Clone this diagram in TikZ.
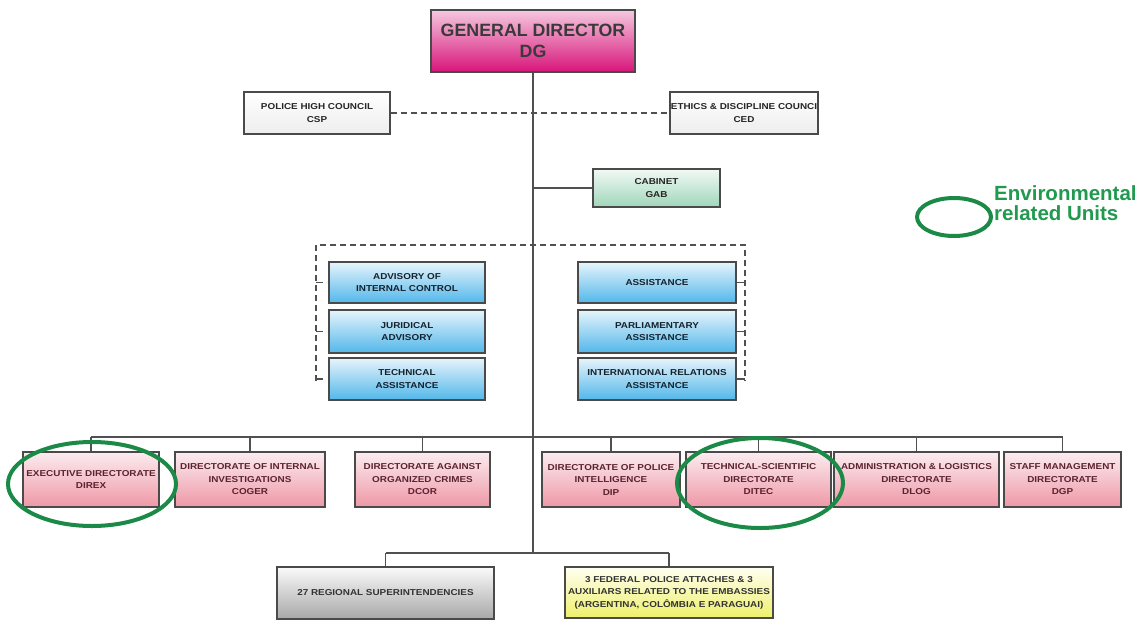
\documentclass[tikz,border=0pt]{standalone}
\usepackage{fontspec}
\setmainfont{Liberation Sans}
\newfontfamily\widefont{Liberation Sans}[FakeStretch=1.15]
\definecolor{boxline}{HTML}{4A4A4A}
\definecolor{linecol}{HTML}{505050}
\definecolor{gdtop}{HTML}{F5C8DF}
\definecolor{gdbot}{HTML}{D8157A}
\definecolor{gdtext}{HTML}{3A3A3A}
\definecolor{pinktop}{HTML}{FBECF0}
\definecolor{pinkbot}{HTML}{EE98A6}
\definecolor{pinktext}{HTML}{5B2330}
\definecolor{bluetop}{HTML}{E6F4FB}
\definecolor{bluebot}{HTML}{52B7EA}
\definecolor{bluetext}{HTML}{14222E}
\definecolor{gabtop}{HTML}{F2F9F5}
\definecolor{gabbot}{HTML}{9FD6BA}
\definecolor{graytop}{HTML}{FAFAFA}
\definecolor{graybot}{HTML}{A8A8A8}
\definecolor{yeltop}{HTML}{FFFFF2}
\definecolor{yelbot}{HTML}{EEF06A}
\definecolor{ringgreen}{HTML}{1B8A47}
\definecolor{leggreen}{HTML}{21994F}
\begin{document}
\begin{tikzpicture}[x=1pt,y=-1pt,
  box/.style={draw=boxline, line width=1.6pt, align=center, inner sep=0pt},
  small/.style={font=\widefont\bfseries\fontsize{8.6}{12.5}\selectfont},
  gdbox/.style={box, top color=gdtop, bottom color=gdbot, text=gdtext,
    font=\bfseries\fontsize{17.8}{21}\selectfont},
  plainbox/.style={box, small, top color=white, bottom color=black!7, text=black!85},
  gabbox/.style={box, small, top color=gabtop, bottom color=gabbot, text=black!85},
  bluebox/.style={box, small, top color=bluetop, bottom color=bluebot, text=bluetext},
  dirbox/.style={box, small, top color=pinktop, bottom color=pinkbot, text=pinktext,
    minimum height=55pt},
  graybox/.style={box, small, top color=graytop, bottom color=graybot, text=black!80},
  yelbox/.style={box, small, top color=yeltop, bottom color=yelbot, text=black!80},
  conn/.style={draw=linecol, line width=1.5pt},
  dashconn/.style={conn, dash pattern=on 6pt off 4pt},
  ring/.style={draw=ringgreen, line width=4pt}
]
\useasboundingbox (0,0) rectangle (1139,624);
\fill[white] (0,0) rectangle (1139,624);

% coordinates
\coordinate (bus) at (533,437);
\coordinate (bot) at (533,553);
\coordinate (bTL) at (316,245);
\coordinate (bTR) at (745,245);
\coordinate (bBL) at (316,381);
\coordinate (bBR) at (745,381);

% top
\node[gdbox, minimum width=204pt, minimum height=62pt] (dg) at (533,41) {GENERAL DIRECTOR\\DG};
\node[plainbox, minimum width=146pt, minimum height=42pt] (csp) at (317,113) {POLICE HIGH COUNCIL\\CSP};
\node[plainbox, minimum width=148pt, minimum height=42pt] (ced) at (744,113) {ETHICS \& DISCIPLINE COUNCI\\CED};
\node[gabbox, minimum width=127pt, minimum height=38pt] (gab) at (656.5,188) {CABINET\\GAB};

% advisory boxes
\node[bluebox, minimum width=156pt, minimum height=41pt] (l1) at (407,282.5) {ADVISORY OF\\INTERNAL CONTROL};
\node[bluebox, minimum width=156pt, minimum height=43pt] (l2) at (407,331.5) {JURIDICAL\\ADVISORY};
\node[bluebox, minimum width=156pt, minimum height=42pt] (l3) at (407,379) {TECHNICAL\\ASSISTANCE};
\node[bluebox, minimum width=158pt, minimum height=41pt] (r1) at (657,282.5) {ASSISTANCE};
\node[bluebox, minimum width=158pt, minimum height=43pt] (r2) at (657,331.5) {PARLIAMENTARY\\ASSISTANCE};
\node[bluebox, minimum width=158pt, minimum height=42pt] (r3) at (657,379) {INTERNATIONAL RELATIONS\\ASSISTANCE};

% directorates
\node[dirbox, minimum width=136pt] (direx) at (91,479.5) {EXECUTIVE DIRECTORATE\\DIREX};
\node[dirbox, minimum width=150pt] (coger) at (250,479.5) {DIRECTORATE OF INTERNAL\\INVESTIGATIONS\\COGER};
\node[dirbox, minimum width=135pt] (dcor) at (422.5,479.5) {DIRECTORATE AGAINST\\ORGANIZED CRIMES\\DCOR};
\node[dirbox, minimum width=138pt] (dip) at (611,479.5) {DIRECTORATE OF POLICE\\INTELLIGENCE\\DIP};
\node[dirbox, minimum width=145pt] (ditec) at (758.5,479.5) {TECHNICAL-SCIENTIFIC\\DIRECTORATE\\DITEC};
\node[dirbox, minimum width=165pt] (dlog) at (916.5,479.5) {ADMINISTRATION \& LOGISTICS\\DIRECTORATE\\DLOG};
\node[dirbox, minimum width=117pt] (dgp) at (1062.5,479.5) {STAFF MANAGEMENT\\DIRECTORATE\\DGP};

% bottom
\node[graybox, minimum width=217pt, minimum height=52pt] (reg) at (385.5,593) {27 REGIONAL SUPERINTENDENCIES};
\node[yelbox, minimum width=208pt, minimum height=51pt] (fed) at (669,592.5) {3 FEDERAL POLICE ATTACHES \& 3\\AUXILIARS RELATED TO THE EMBASSIES\\(ARGENTINA, COLÔMBIA E PARAGUAI)};

% connectors
\draw[conn] (dg.south -| bus) -- (bot);
\draw[dashconn] (csp.east) -- (ced.west);
\draw[conn] (gab.west -| bus) -- (gab.west);
\draw[dashconn] (bBL) -- (bTL) -- (bTR) -- (bBR);
\foreach \n in {l1,l2,l3} \draw[conn, line width=1.2pt] (\n.west -| bTL) -- ++(7,0);
\foreach \n in {r1,r2,r3} \draw[conn, line width=1.2pt] (\n.east) -- (\n.east -| bTR);
\draw[conn] (direx.north |- bus) -- (dgp.north |- bus);
\foreach \n in {direx,coger,dcor,dip,ditec,dlog,dgp} \draw[conn] (\n.north |- bus) -- (\n.north);
\draw[conn] (reg.north |- bot) -- (fed.north |- bot);
\draw[conn] (reg.north |- bot) -- (reg.north);
\draw[conn] (fed.north |- bot) -- (fed.north);

% environmental rings
\draw[ring] (92,484) ellipse [x radius=84pt, y radius=42pt];
\draw[ring] (760,483) ellipse [x radius=83pt, y radius=45pt];
\draw[ring] (954,217) ellipse [x radius=37pt, y radius=19pt];
\node[anchor=west, inner sep=0pt, align=left, text=leggreen,
  font=\bfseries\fontsize{20.5}{20}\selectfont] (leg) at (994,203) {Environmental\\related Units};
\end{tikzpicture}
\end{document}
